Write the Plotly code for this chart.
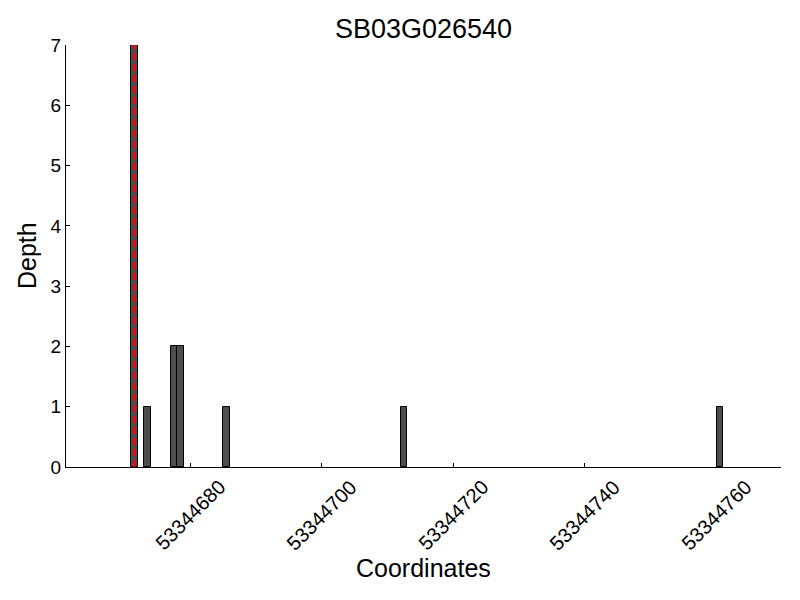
import plotly.graph_objects as go

title = "SB03G026540"
coords = [53344671, 53344673, 53344677, 53344678, 53344685, 53344712, 53344760]
depths = [7, 1, 2, 2, 1, 1, 1]
marker_pos = 53344671.5
x_ticks = [53344680, 53344700, 53344720, 53344740, 53344760]
y_ticks = [0, 1, 2, 3, 4, 5, 6, 7]

# page body adds an 8px offset; margins compensate
L, R, T, B = 58, 27, 37, 141
W, H = 800, 600
pw, ph = W - L - R, H - T - B

fig = go.Figure()
fig.add_trace(go.Bar(
    x=coords, y=depths, width=1, offset=0,
    marker=dict(color="#4d4d4d", line=dict(color="black", width=1)),
    showlegend=False,
))
fig.add_shape(type="line", x0=marker_pos, x1=marker_pos, y0=0, y1=7,
              xref="x", yref="y", line=dict(color="red", width=2.5, dash="7px,4px"))

fig.update_layout(
    width=W, height=H,
    margin=dict(l=L, r=R, t=T, b=B, autoexpand=False),
    plot_bgcolor="white", paper_bgcolor="white",
    font=dict(family="Liberation Sans, Arial, sans-serif", color="black", size=19),
    title=dict(text=title, xref="paper", x=0.5, xanchor="center",
               y=1 - 21 / H, yanchor="middle", font=dict(size=27)),
    bargap=0,
)
for v in x_ticks:
    fig.add_annotation(text=str(v), x=v, xref="x", y=0, yref="paper",
                       textangle=-45, xanchor="center", yanchor="top",
                       yshift=-6, showarrow=False, font=dict(size=20))
fig.add_annotation(text="Coordinates", xref="paper", yref="paper",
                   x=0.5, y=-101 / ph,
                   xanchor="center", yanchor="middle", showarrow=False,
                   font=dict(size=25))
fig.add_annotation(text="Depth", xref="paper", yref="paper",
                   x=-39 / pw, y=0.5, textangle=-90,
                   xanchor="center", yanchor="middle", showarrow=False,
                   font=dict(size=25))
fig.update_xaxes(
    range=[53344661.1, 53344769.8], tickvals=x_ticks, showticklabels=False,
    ticks="inside", ticklen=4, tickcolor="black", automargin=False,
    showline=True, linecolor="black", linewidth=1, showgrid=False, zeroline=False,
)
fig.update_yaxes(
    range=[0, 7], tickvals=y_ticks, ticks="inside", ticklen=4, tickcolor="black",
    automargin=False,
    showline=True, linecolor="black", linewidth=1, showgrid=False, zeroline=False,
)
fig.write_html("out.html")
